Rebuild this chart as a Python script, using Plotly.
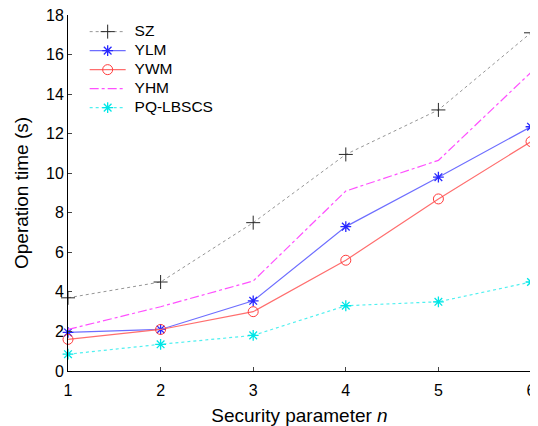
import plotly.graph_objects as go

n_values = [1, 2, 3, 4, 5, 6]
sz = [3.7, 4.5, 7.5, 10.95, 13.2, 17.1]
ylm = [1.95, 2.1, 3.55, 7.3, 9.8, 12.35]
ywm = [1.6, 2.1, 3.0, 5.6, 8.7, 11.6]
yhm = [2.1, 3.25, 4.55, 9.1, 10.65, 15.1]
pq = [0.85, 1.35, 1.8, 3.3, 3.5, 4.5]

series = [
    ("SZ", sz, dict(color="rgb(150,150,150)", width=1, dash="dot"),
     dict(symbol="cross-thin-open", size=10, color="rgb(40,40,40)", line=dict(width=1, color="rgb(40,40,40)"))),
    ("YLM", ylm, dict(color="rgb(110,110,255)", width=1.2, dash="solid"),
     dict(symbol="asterisk-open", size=9, color="rgb(40,40,255)", line=dict(width=1.3, color="rgb(40,40,255)"))),
    ("YWM", ywm, dict(color="rgb(255,110,110)", width=1.2, dash="solid"),
     dict(symbol="circle-open", size=10, color="rgb(255,60,60)", line=dict(width=1, color="rgb(255,60,60)"))),
    ("YHM", yhm, dict(color="rgb(255,80,255)", width=1.2, dash="dashdot"),
     dict(symbol="circle", size=1, color="rgba(0,0,0,0)")),
    ("PQ-LBSCS", pq, dict(color="rgb(80,240,240)", width=1.2, dash="dot"),
     dict(symbol="asterisk-open", size=9, color="rgb(0,230,230)", line=dict(width=1.3, color="rgb(0,230,230)"))),
]

fig = go.Figure()
for name, vals, line, marker in series:
    mode = "lines" if name == "YHM" else "lines+markers"
    label = "<span style='font-size:15.5px'>\u2005" + name + "</span>"
    fig.add_trace(go.Scatter(x=n_values, y=vals, name=label, mode=mode, line=line,
                             marker=marker, cliponaxis=False))

# page body has an 8px margin, so the figure is laid out offset by 8px
fig.update_layout(
    width=529, height=418,
    paper_bgcolor="white", plot_bgcolor="white",
    margin=dict(l=60, r=6, t=7, b=55, autoexpand=False),
    font=dict(family="Liberation Sans, Arial, sans-serif", size=16, color="black"),
    legend=dict(x=0.036, y=0.994, xanchor="left", yanchor="top",
                bgcolor="rgba(0,0,0,0)", font=dict(size=11),
                tracegroupgap=0, itemwidth=36),
    showlegend=True,
)
fig.update_xaxes(range=[1, 6], tickvals=n_values, ticks="inside", ticklen=4,
                 showline=True, linecolor="black", linewidth=1, showgrid=False, zeroline=False,
                 automargin=False, ticklabeloverflow="allow", ticklabelstandoff=5,
                 tickfont=dict(size=16),
                 title=dict(text="Security parameter <i>n</i>", standoff=18, font=dict(size=19)))
fig.update_yaxes(range=[0, 18], dtick=2, ticks="inside", ticklen=4,
                 showline=True, linecolor="black", linewidth=1, showgrid=False, zeroline=False,
                 automargin=False, ticklabeloverflow="allow",
                 tickfont=dict(size=16),
                 title=dict(text="Operation time (s)", standoff=12, font=dict(size=19)))

fig.write_html("out.html")
